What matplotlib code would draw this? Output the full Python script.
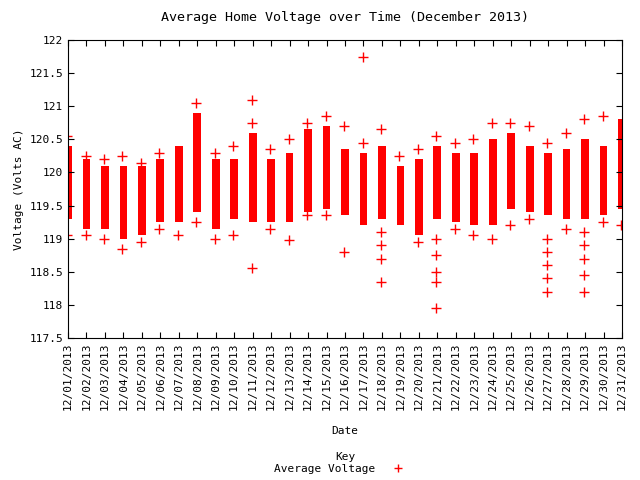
import matplotlib
matplotlib.use("Agg")
import matplotlib.pyplot as plt

# Day of month, dense band low/high, and scattered readings outside the band
days = list(range(1, 32))
band_low = [119.3, 119.15, 119.15, 119.0, 119.05, 119.25, 119.25, 119.4, 119.15, 119.3,
            119.25, 119.25, 119.25, 119.4, 119.45, 119.35, 119.2, 119.3, 119.2, 119.05,
            119.3, 119.25, 119.2, 119.2, 119.45, 119.4, 119.35, 119.3, 119.3, 119.35, 119.45]
band_high = [120.4, 120.2, 120.1, 120.1, 120.1, 120.2, 120.4, 120.9, 120.2, 120.2,
             120.6, 120.2, 120.3, 120.65, 120.7, 120.35, 120.3, 120.4, 120.1, 120.2,
             120.4, 120.3, 120.3, 120.5, 120.6, 120.4, 120.3, 120.35, 120.5, 120.4, 120.8]
outliers = [
    [119.05, 120.55], [119.05, 120.25], [119.0, 120.2], [118.85, 120.25], [118.95, 120.15],
    [119.15, 120.3], [119.05], [119.25, 121.05], [119.0, 120.3], [119.05, 120.4],
    [118.55, 120.75, 121.1], [119.15, 120.35], [118.98, 120.5], [119.35, 120.75], [119.35, 120.85],
    [118.8, 120.7], [120.45, 121.75], [118.35, 118.7, 118.9, 119.1, 120.65], [120.25], [118.95, 120.35],
    [117.95, 118.35, 118.5, 118.75, 119.0, 120.55], [119.15, 120.45], [119.05, 120.5], [119.0, 120.75], [119.2, 120.75],
    [119.3, 120.7], [118.2, 118.4, 118.6, 118.8, 119.0, 120.45], [119.15, 120.6],
    [118.2, 118.45, 118.7, 118.9, 119.1, 120.8], [119.25, 120.85], [119.2],
]
tick_labels = ["12/%02d/2013" % d for d in days]

plt.rcParams["font.family"] = "DejaVu Sans Mono"
plt.rcParams["font.size"] = 8

fig = plt.figure(figsize=(6.4, 4.8), dpi=100)
ax = fig.add_axes([68 / 640, 1 - 338 / 480, 554 / 640, 298 / 480])

heights = [h - l for l, h in zip(band_low, band_high)]
ax.bar(days, heights, bottom=band_low, width=0.42, align="center",
       color="red", edgecolor="red", linewidth=0)
for d, vals in zip(days, outliers):
    ax.plot([d - 0.05] * len(vals), vals, "+", color="red", markersize=7, mew=1)

ax.set_xlim(1, 31)
ax.set_ylim(117.5, 122)
ax.set_yticks([117.5, 118, 118.5, 119, 119.5, 120, 120.5, 121, 121.5, 122])
ax.set_yticklabels(["117.5", "118", "118.5", "119", "119.5", "120", "120.5", "121", "121.5", "122"])
ax.set_xticks(days)
ax.set_xticklabels(tick_labels, rotation=90)
ax.tick_params(direction="in", length=4, top=True, right=True)
for s in ax.spines.values():
    s.set_linewidth(0.8)

ax.set_title("Average Home Voltage over Time (December 2013)", pad=14)
ax.set_ylabel("Voltage (Volts AC)")
fig.text(345 / 640, 1 - 431 / 480, "Date", ha="center", va="center")
fig.text(345 / 640, 1 - 457 / 480, "Key", ha="center", va="center")
fig.text(375 / 640, 1 - 469 / 480, "Average Voltage", ha="right", va="center")
fig.lines.append(plt.Line2D([398 / 640], [1 - 468 / 480], marker="+", color="red",
                            markersize=6, mew=1, transform=fig.transFigure))

fig.savefig("out.png", dpi=100)
